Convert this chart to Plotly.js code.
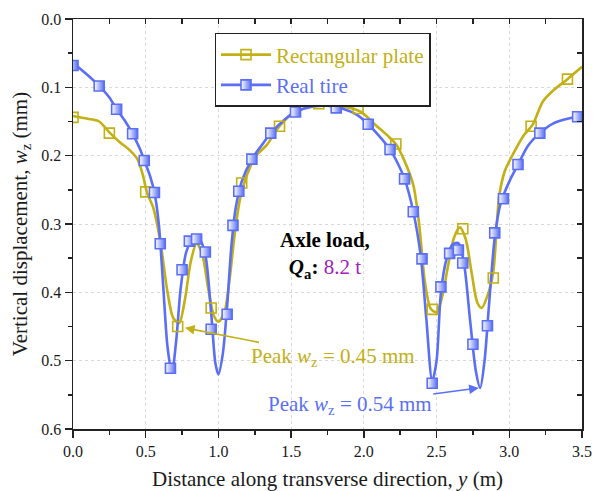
<!DOCTYPE html>
<html>
<head>
<meta charset="utf-8">
<script src="https://cdn.plot.ly/plotly-3.0.1.min.js"></script>
<style>html,body{margin:0;padding:0;background:#fff;} #chart{width:593px;height:491px;}</style>
</head>
<body>
<div id="chart"></div>
<script>
// Rectangular plate: curve and marked points
const plateLineX = [0.00,0.10,0.18,0.25,0.32,0.38,0.44,0.48,0.51,0.55,0.60,0.65,0.69,0.73,0.77,0.81,0.85,0.89,0.93,0.97,1.00,1.04,1.08,1.11,1.15,1.20,1.26,1.33,1.42,1.50,1.60,1.70,1.80,1.90,1.98,2.08,2.16,2.22,2.28,2.34,2.38,2.42,2.46,2.50,2.54,2.58,2.62,2.66,2.70,2.74,2.78,2.81,2.85,2.89,2.93,2.97,3.02,3.10,3.16,3.23,3.30,3.40,3.50];
const plateLineY = [0.142,0.146,0.150,0.166,0.180,0.190,0.204,0.228,0.255,0.275,0.325,0.400,0.438,0.445,0.410,0.355,0.328,0.345,0.395,0.435,0.443,0.430,0.375,0.318,0.262,0.226,0.200,0.185,0.157,0.140,0.130,0.124,0.127,0.130,0.136,0.155,0.170,0.183,0.208,0.243,0.300,0.385,0.424,0.429,0.405,0.360,0.320,0.305,0.322,0.370,0.415,0.423,0.405,0.370,0.260,0.222,0.200,0.170,0.155,0.121,0.105,0.088,0.070];
const plateMarkX = [0.00,0.25,0.50,0.72,0.95,1.16,1.42,1.69,1.96,2.22,2.47,2.68,2.89,3.15,3.40];
const plateMarkY = [0.144,0.167,0.253,0.450,0.423,0.240,0.157,0.124,0.131,0.183,0.425,0.307,0.379,0.157,0.088];

// Real tire: curve and marked points
const tireLineX = [0.00,0.10,0.18,0.25,0.30,0.36,0.41,0.46,0.49,0.53,0.56,0.59,0.62,0.65,0.68,0.71,0.74,0.78,0.83,0.87,0.91,0.95,0.98,1.00,1.03,1.06,1.09,1.12,1.16,1.23,1.30,1.36,1.45,1.53,1.65,1.75,1.85,1.95,2.03,2.10,2.18,2.23,2.28,2.34,2.39,2.43,2.47,2.50,2.53,2.57,2.61,2.65,2.69,2.73,2.77,2.80,2.83,2.86,2.90,2.94,3.00,3.06,3.13,3.21,3.30,3.40,3.50];
const tireLineY = [0.064,0.082,0.098,0.115,0.132,0.150,0.168,0.190,0.207,0.230,0.254,0.300,0.390,0.480,0.518,0.470,0.395,0.340,0.320,0.322,0.345,0.430,0.505,0.520,0.490,0.420,0.330,0.275,0.238,0.205,0.184,0.167,0.148,0.136,0.128,0.127,0.131,0.140,0.154,0.170,0.191,0.210,0.234,0.282,0.345,0.440,0.530,0.500,0.400,0.350,0.330,0.328,0.360,0.440,0.515,0.540,0.500,0.420,0.320,0.270,0.238,0.213,0.185,0.167,0.153,0.146,0.142];
const tireMarkX = [0.00,0.18,0.30,0.41,0.49,0.56,0.60,0.67,0.75,0.80,0.85,0.91,0.95,1.06,1.10,1.14,1.23,1.36,1.53,1.81,2.03,2.18,2.28,2.34,2.40,2.47,2.53,2.59,2.65,2.68,2.75,2.85,2.90,2.96,3.06,3.21,3.47];
const tireMarkY = [0.068,0.098,0.132,0.168,0.207,0.254,0.329,0.511,0.367,0.325,0.322,0.341,0.454,0.432,0.302,0.252,0.205,0.167,0.136,0.130,0.154,0.191,0.234,0.282,0.351,0.533,0.392,0.343,0.338,0.357,0.476,0.449,0.313,0.263,0.213,0.167,0.143];

const seriesNames = ['Rectangular plate', 'Real tire'];
const xTickVals = [0, 0.5, 1.0, 1.5, 2.0, 2.5, 3.0, 3.5];
const yTickVals = [0, 0.1, 0.2, 0.3, 0.4, 0.5, 0.6];

const OLIVE = '#c2b015';
const BLUE = '#5a6ff6';
const FONT = 'Liberation Serif';
const INK = '#1a1a1a';

const plateMarker = {symbol: 'square-open', size: 10, color: OLIVE, line: {color: OLIVE, width: 1.6}};
// half-filled look: white on the left, blue on the right
const tireMarker = {symbol: 'square', size: 10, color: '#ffffff', gradient: {type: 'horizontal', color: BLUE}, line: {color: BLUE, width: 1.6}};

const traces = [
  {x: plateLineX, y: plateLineY, mode: 'lines', line: {color: OLIVE, width: 2.6, shape: 'spline', smoothing: 0.8}, showlegend: false, hoverinfo: 'skip'},
  {x: tireLineX, y: tireLineY, mode: 'lines', line: {color: BLUE, width: 2.6, shape: 'spline', smoothing: 0.8}, showlegend: false, hoverinfo: 'skip'},
  {x: plateMarkX, y: plateMarkY, mode: 'markers', marker: plateMarker, showlegend: false},
  {x: tireMarkX, y: tireMarkY, mode: 'markers', marker: tireMarker, showlegend: false},
  {x: [null], y: [null], mode: 'lines+markers', name: '<span style="color:' + OLIVE + '">' + seriesNames[0] + '</span>', line: {color: OLIVE, width: 2.6}, marker: plateMarker},
  {x: [null], y: [null], mode: 'lines+markers', name: '<span style="color:' + BLUE + '">' + seriesNames[1] + '</span>', line: {color: BLUE, width: 2.6}, marker: tireMarker},
  {x: [], y: [], xaxis: 'x2', yaxis: 'y2', mode: 'markers', showlegend: false, hoverinfo: 'skip'}
];

const tickFont = {family: FONT, size: 16, color: INK};
const titleFont = {family: FONT, size: 21, color: INK};

const layout = {
  width: 593, height: 491,
  margin: {l: 73, r: 11, t: 19, b: 62},
  paper_bgcolor: '#fff', plot_bgcolor: '#fff',
  font: {family: FONT, size: 16, color: INK},
  showlegend: true,
  legend: {x: 0.278, y: 0.966, xanchor: 'left', yanchor: 'top', bgcolor: '#fff', bordercolor: '#222', borderwidth: 1.5,
           font: {family: FONT, size: 21, color: INK}, tracegroupgap: 0, itemwidth: 50},
  xaxis: {range: [0, 3.5], tickvals: xTickVals, tickformat: '.1f', ticks: 'outside', ticklen: 7, tickwidth: 1.5, tickcolor: '#222',
          showline: true, linecolor: '#222', linewidth: 1.5, showgrid: true, gridcolor: '#d9d9d9', griddash: '3px,3px', gridwidth: 1,
          zeroline: false, tickfont: tickFont,
          minor: {dtick: 0.25, ticks: 'outside', ticklen: 4, tickwidth: 1.5, tickcolor: '#222', showgrid: false},
          title: {text: 'Distance along transverse direction, <i>y</i> (m)', font: titleFont, standoff: 16}},
  yaxis: {range: [0.6, 0], tickvals: yTickVals, tickformat: '.1f', ticks: 'outside', ticklen: 7, tickwidth: 1.5, tickcolor: '#222',
          showline: true, linecolor: '#222', linewidth: 1.5, showgrid: true, gridcolor: '#d9d9d9', griddash: '3px,3px', gridwidth: 1,
          zeroline: false, tickfont: tickFont,
          minor: {dtick: 0.05, ticks: 'outside', ticklen: 4, tickwidth: 1.5, tickcolor: '#222', showgrid: false},
          title: {text: 'Vertical displacement, <i>w</i><sub>z</sub> (mm)', font: titleFont, standoff: 8}},
  xaxis2: {overlaying: 'x', side: 'top', anchor: 'y', range: [0, 3.5], tickvals: xTickVals, ticks: 'inside', ticklen: 5, tickwidth: 1.5, tickcolor: '#222',
           showticklabels: false, showline: true, linecolor: '#222', linewidth: 1.5, showgrid: false, zeroline: false,
           minor: {dtick: 0.25, ticks: 'inside', ticklen: 5, tickwidth: 1.5, tickcolor: '#222', showgrid: false}},
  yaxis2: {overlaying: 'y', side: 'right', anchor: 'x', range: [0.6, 0], tickvals: yTickVals, ticks: 'inside', ticklen: 5, tickwidth: 1.5, tickcolor: '#222',
           showticklabels: false, showline: true, linecolor: '#222', linewidth: 1.5, showgrid: false, zeroline: false,
           minor: {dtick: 0.05, ticks: 'inside', ticklen: 5, tickwidth: 1.5, tickcolor: '#222', showgrid: false}},
  annotations: [
    {x: 1.733, y: 0.346, xref: 'x', yref: 'y', showarrow: false, align: 'center',
     text: '<b>Axle load,</b><br><b><i>Q</i><sub>a</sub>:</b> <span style="color:#a020c0">8.2 t</span>',
     font: {family: FONT, size: 21, color: '#000'}},
    {x: 0.77, y: 0.452, xref: 'x', yref: 'y', ax: 148, ay: 29, showarrow: true, arrowhead: 2, arrowsize: 1.2, arrowwidth: 1.6, arrowcolor: OLIVE,
     text: 'Peak <i>w</i><sub>z</sub> = 0.45 mm', font: {family: FONT, size: 21, color: OLIVE}},
    {x: 2.79, y: 0.540, xref: 'x', yref: 'y', ax: -129, ay: 17, showarrow: true, arrowhead: 2, arrowsize: 1.2, arrowwidth: 1.6, arrowcolor: BLUE,
     text: 'Peak <i>w</i><sub>z</sub> = 0.54 mm', font: {family: FONT, size: 21, color: BLUE}}
  ]
};

Plotly.newPlot('chart', traces, layout, {displayModeBar: false, staticPlot: true});
</script>
</body>
</html>
